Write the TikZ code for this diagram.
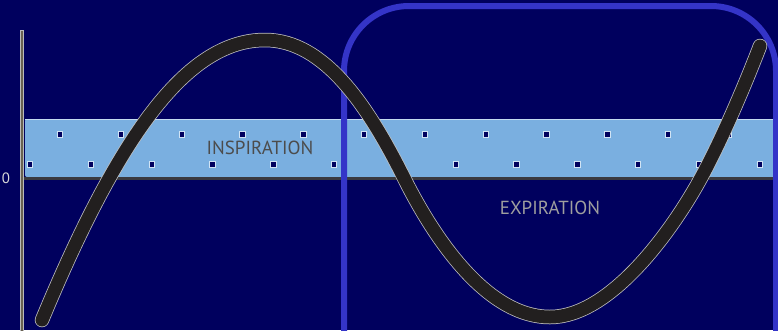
\documentclass[tikz,border=0pt]{standalone}
\usepackage{fontspec}
\setmainfont{PT Sans}
\usepackage{xcolor}
\usetikzlibrary{positioning}
\definecolor{cnavy}{RGB}{0,0,94}
\definecolor{cband}{RGB}{122,175,224}
\definecolor{cframe}{RGB}{52,52,200}
\definecolor{cwave}{RGB}{34,31,31}
\definecolor{caxis}{RGB}{58,58,64}
\definecolor{cpost}{RGB}{105,98,82}

\begin{document}
\begin{tikzpicture}[
    x=1bp, y=-1bp,
    wave/.style={
        line width=#1,
        line cap=round,
        line join=round
    },
    marker/.style={
        rectangle,
        draw=cband!35!white,
        fill=cnavy,
        line width=0.6pt,
        minimum size=5.5bp,
        inner sep=0pt
    },
    phase/.style={
        font=\fontsize{19}{19}\selectfont,
        inner sep=0pt
    }
]

% Background
\fill[cnavy] (0,0) rectangle (778,330);
\useasboundingbox (0,0) rectangle (778,330);

% Inspiration band with its markers
\fill[cband, rounded corners=2bp] (25,119) rectangle (776,177);
\draw[cband!45!white, line width=0.8bp] (25,119.5) -- (774,119.5);
\foreach \k in {0,...,11}
    \node[marker] (mt\k) at (60+60.8*\k,134.5) {};
\foreach \k in {0,...,12}
    \node[marker] (mb\k) at (30+60.8*\k,164.5) {};

% Zero line and vertical axis
\draw[caxis, line width=3.5bp] (23,178.5) -- (776,178.5);
\draw[gray!55, line width=4bp] (22,30) -- (22,331);
\draw[cpost, line width=2bp] (22,31) -- (22,331);
\node[text=gray!30, font=\fontsize{15}{15}\selectfont] (zero) at (6,178) {0};

% Expiration frame
\draw[cframe, line width=6bp, rounded corners=65bp] (344,332) -- (344,6) -- (776,6) -- (776,332);

% Breathing wave (light rim, then dark stroke)
\foreach \w/\c in {14.5bp/gray!50, 13bp/cwave}
    \draw[\c, wave=\w] (42,320)
        .. controls (117,140) and (185,40) .. (265,40)
        .. controls (325,40) and (369,108) .. (404,178)
        .. controls (432,234) and (485,317) .. (550,317)
        .. controls (610,317) and (672,231.5) .. (702,176)
        .. controls (722,139) and (745,85) .. (760,46);

% Phase labels
\node[phase, text=black!70] (insp) at (260,148) {INSPIRATION};
\node[phase, text=gray!75] (expi) at (550,207.5) {EXPIRATION};

\end{tikzpicture}
\end{document}
